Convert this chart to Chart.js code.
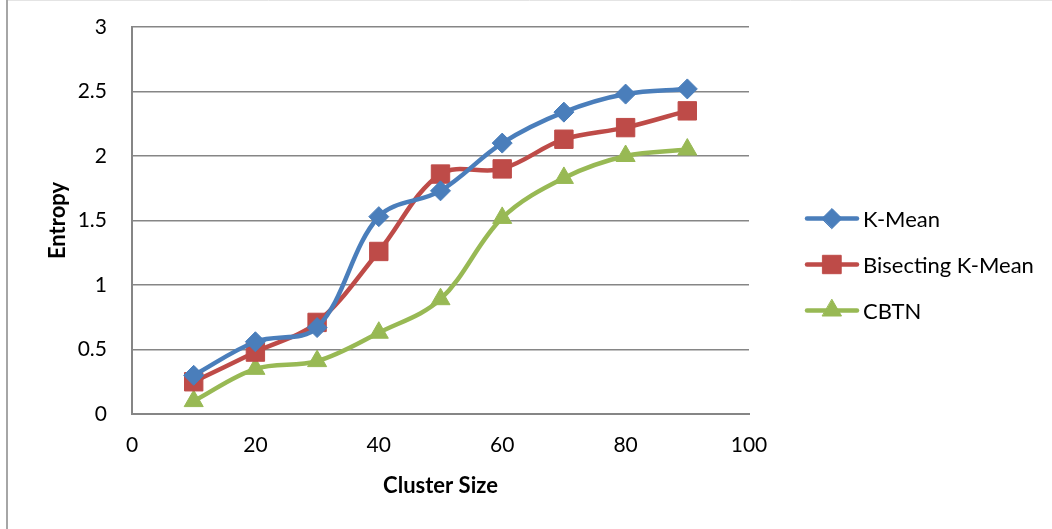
<!DOCTYPE html>
<html>
<head>
<meta charset="utf-8">
<script src="https://cdn.jsdelivr.net/npm/chart.js@4.4.1/dist/chart.umd.min.js"></script>
<style>
  html, body { margin: 0; padding: 0; background: #fff; }
  #wrap { position: relative; width: 1052px; height: 529px; }
</style>
</head>
<body>
<div id="wrap"><canvas id="chart" width="1052" height="529"></canvas></div>
<script>
// cluster sizes on the x axis
const clusterSizes = [10, 20, 30, 40, 50, 60, 70, 80, 90];

// entropy values per method
const kMean = [0.30, 0.56, 0.67, 1.53, 1.73, 2.10, 2.34, 2.48, 2.52];
const bisectingKMean = [0.25, 0.48, 0.71, 1.26, 1.86, 1.90, 2.13, 2.22, 2.35];
const cbtn = [0.10, 0.35, 0.41, 0.63, 0.89, 1.52, 1.83, 2.00, 2.05];

const seriesNames = ['K-Mean', 'Bisecting K-Mean', 'CBTN'];
const yTicks = [0, 0.5, 1, 1.5, 2, 2.5, 3];
const xTicks = [0, 20, 40, 60, 80, 100];

const FONT = 'Lato, "Open Sans", sans-serif';
const GRID = '#868686';

function toPoints(values) {
  return values.map((v, i) => ({ x: clusterSizes[i], y: v }));
}

function makeSet(label, values, color, style, radius) {
  return {
    label,
    data: toPoints(values),
    borderColor: color,
    backgroundColor: color,
    borderWidth: 4.5,
    pointStyle: style,
    pointRadius: radius,
    pointHoverRadius: radius,
    pointBorderWidth: 1,
    tension: 0.35,
    clip: false
  };
}

// draws the chart frame like the original picture
const framePlugin = {
  id: 'frame',
  beforeDraw(chart) {
    const ctx = chart.ctx;
    ctx.save();
    ctx.fillStyle = '#fff';
    ctx.fillRect(0, 0, chart.width, chart.height);
    ctx.strokeStyle = '#e4e4e4';
    ctx.lineWidth = 1;
    ctx.beginPath();
    ctx.moveTo(7, 0.5);
    ctx.lineTo(chart.width, 0.5);
    ctx.stroke();
    ctx.strokeStyle = '#a6a6a6';
    ctx.lineWidth = 2;
    ctx.beginPath();
    ctx.moveTo(7, 0);
    ctx.lineTo(7, chart.height);
    ctx.stroke();
    ctx.restore();
  }
};

// legend with a line and a marker for each series
const lineLegend = {
  id: 'lineLegend',
  afterDraw(chart) {
    const ctx = chart.ctx;
    const sets = chart.data.datasets;
    const x0 = chart.chartArea.right + 58;
    const rowGap = 46;
    const midY = chart.height / 2;
    ctx.save();
    sets.forEach((ds, i) => {
      const y = midY + (i - (sets.length - 1) / 2) * rowGap;
      ctx.strokeStyle = ds.borderColor;
      ctx.lineWidth = 4.5;
      ctx.lineCap = 'round';
      ctx.beginPath();
      ctx.moveTo(x0, y);
      ctx.lineTo(x0 + 50, y);
      ctx.stroke();
      ctx.fillStyle = ds.backgroundColor;
      ctx.lineWidth = 1;
      Chart.helpers.drawPoint(ctx, { pointStyle: ds.pointStyle, radius: ds.pointRadius, borderWidth: 1 }, x0 + 25, y);
      ctx.fillStyle = '#000';
      ctx.font = '22px ' + FONT;
      ctx.textBaseline = 'middle';
      ctx.textAlign = 'left';
      ctx.fillText(ds.label, x0 + 56, y + 1);
    });
    ctx.restore();
  }
};

new Chart(document.getElementById('chart'), {
  type: 'line',
  data: {
    datasets: [
      makeSet(seriesNames[0], kMean, '#4a7ebb', 'rectRot', 10),
      makeSet(seriesNames[1], bisectingKMean, '#be4b48', 'rect', 13),
      makeSet(seriesNames[2], cbtn, '#98b954', 'triangle', 11)
    ]
  },
  options: {
    responsive: false,
    animation: false,
    layout: { autoPadding: false, padding: { top: 27, right: 303, bottom: 0, left: 0 } },
    plugins: {
      legend: { display: false },
      tooltip: { enabled: false }
    },
    scales: {
      x: {
        type: 'linear',
        min: 0,
        max: 100,
        afterBuildTicks: (s) => { s.ticks = xTicks.map(v => ({ value: v })); },
        afterFit: (s) => { s.height = 115; s.paddingLeft = 0; s.paddingRight = 0; },
        grid: { display: false, drawTicks: false },
        border: { display: true, color: GRID, width: 2 },
        ticks: { color: '#000', padding: 19, font: { family: FONT, size: 21 }, callback: (v) => String(v) },
        title: {
          display: true,
          text: 'Cluster Size',
          color: '#000',
          font: { family: FONT, size: 22, weight: 'bold' },
          padding: { top: 0, bottom: 30 }
        }
      },
      y: {
        min: 0,
        max: 3,
        afterBuildTicks: (s) => { s.ticks = yTicks.map(v => ({ value: v })); },
        afterFit: (s) => { s.width = 132; s.paddingTop = 0; s.paddingBottom = 0; },
        grid: { color: GRID, lineWidth: 1.5, drawTicks: false },
        border: { display: true, color: GRID, width: 2 },
        ticks: { color: '#000', padding: 25, font: { family: FONT, size: 21 }, callback: (v) => String(v) },
        title: {
          display: true,
          text: 'Entropy',
          color: '#000',
          font: { family: FONT, size: 22, weight: 'bold' },
          padding: { top: 45, bottom: 0 }
        }
      }
    }
  },
  plugins: [framePlugin, lineLegend]
});
</script>
</body>
</html>
